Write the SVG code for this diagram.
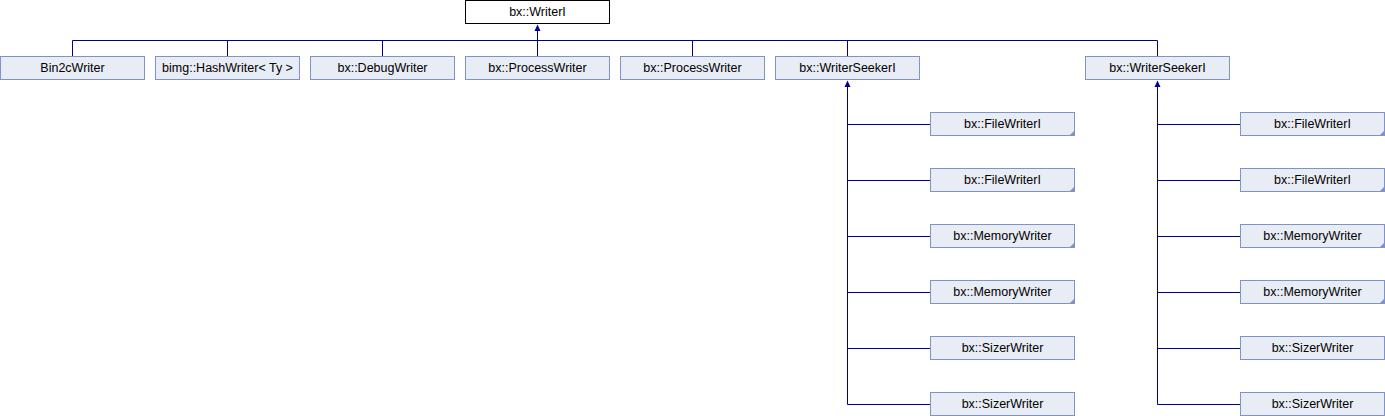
<svg xmlns="http://www.w3.org/2000/svg" width="1385" height="416" viewBox="0 0 1385 416">
<style>
.n rect{fill:#E8ECF5;stroke:#7F93C9;stroke-width:1}
.r rect{fill:#FFFFFF;stroke:#000000;stroke-width:1}
text{font-family:"Liberation Sans",Arial,sans-serif;font-size:12.5px;fill:#000000;text-anchor:middle}
.c{fill:#7F93C9}
.e path{fill:none;stroke:#00008B;stroke-width:1}
.e path.a{fill:#00008B;stroke:none}
</style>
<rect width="1385" height="416" fill="#FFFFFF"/>
<g id="edges" class="e">
<path d="M72.5,56V40.5H1157.5V56M227.5,40.5V56M382.5,40.5V56M537.5,28V56M692.5,40.5V56M847.5,40.5V56"/>
<path d="M847.5,84V404.5M847.5,124.5H930M847.5,180.5H930M847.5,236.5H930M847.5,292.5H930M847.5,348.5H930M847.5,404.5H930"/>
<path d="M1157.5,84V404.5M1157.5,124.5H1240M1157.5,180.5H1240M1157.5,236.5H1240M1157.5,292.5H1240M1157.5,348.5H1240M1157.5,404.5H1240"/>
<path class="a" d="M537.5,24.5L540.5,31H534.5Z"/>
<path class="a" d="M847.5,80.5L850.5,87H844.5Z"/>
<path class="a" d="M1157.5,80.5L1160.5,87H1154.5Z"/>
</g>
<g id="WriterI" class="r"><rect x="465.5" y="0.5" width="144" height="23"/><text x="537.5" y="16">bx::WriterI</text></g>
<g id="Bin2cWriter" class="n"><rect x="0.5" y="56.5" width="144" height="23"/><text x="72.5" y="72">Bin2cWriter</text></g>
<g id="HashWriter" class="n"><rect x="155.5" y="56.5" width="144" height="23"/><text x="227.5" y="72">bimg::HashWriter&lt; Ty &gt;</text></g>
<g id="DebugWriter" class="n"><rect x="310.5" y="56.5" width="144" height="23"/><text x="382.5" y="72">bx::DebugWriter</text></g>
<g id="ProcessWriter1" class="n"><rect x="465.5" y="56.5" width="144" height="23"/><text x="537.5" y="72">bx::ProcessWriter</text></g>
<g id="ProcessWriter2" class="n"><rect x="620.5" y="56.5" width="144" height="23"/><text x="692.5" y="72">bx::ProcessWriter</text></g>
<g id="WriterSeekerI1" class="n"><rect x="775.5" y="56.5" width="144" height="23"/><text x="847.5" y="72">bx::WriterSeekerI</text></g>
<g id="WriterSeekerI2" class="n"><rect x="1085.5" y="56.5" width="144" height="23"/><text x="1157.5" y="72">bx::WriterSeekerI</text></g>
<g id="FileWriterI1a" class="n"><rect x="930.5" y="112.5" width="144" height="23"/><path class="c" d="M1075,130V136H1069Z"/><text x="1002.5" y="128">bx::FileWriterI</text></g>
<g id="FileWriterI1b" class="n"><rect x="930.5" y="168.5" width="144" height="23"/><path class="c" d="M1075,186V192H1069Z"/><text x="1002.5" y="184">bx::FileWriterI</text></g>
<g id="MemoryWriter1a" class="n"><rect x="930.5" y="224.5" width="144" height="23"/><path class="c" d="M1075,242V248H1069Z"/><text x="1002.5" y="240">bx::MemoryWriter</text></g>
<g id="MemoryWriter1b" class="n"><rect x="930.5" y="280.5" width="144" height="23"/><path class="c" d="M1075,298V304H1069Z"/><text x="1002.5" y="296">bx::MemoryWriter</text></g>
<g id="SizerWriter1a" class="n"><rect x="930.5" y="336.5" width="144" height="23"/><text x="1002.5" y="352">bx::SizerWriter</text></g>
<g id="SizerWriter1b" class="n"><rect x="930.5" y="392.5" width="144" height="23"/><text x="1002.5" y="408">bx::SizerWriter</text></g>
<g id="FileWriterI2a" class="n"><rect x="1240.5" y="112.5" width="144" height="23"/><path class="c" d="M1385,130V136H1379Z"/><text x="1312.5" y="128">bx::FileWriterI</text></g>
<g id="FileWriterI2b" class="n"><rect x="1240.5" y="168.5" width="144" height="23"/><path class="c" d="M1385,186V192H1379Z"/><text x="1312.5" y="184">bx::FileWriterI</text></g>
<g id="MemoryWriter2a" class="n"><rect x="1240.5" y="224.5" width="144" height="23"/><path class="c" d="M1385,242V248H1379Z"/><text x="1312.5" y="240">bx::MemoryWriter</text></g>
<g id="MemoryWriter2b" class="n"><rect x="1240.5" y="280.5" width="144" height="23"/><path class="c" d="M1385,298V304H1379Z"/><text x="1312.5" y="296">bx::MemoryWriter</text></g>
<g id="SizerWriter2a" class="n"><rect x="1240.5" y="336.5" width="144" height="23"/><text x="1312.5" y="352">bx::SizerWriter</text></g>
<g id="SizerWriter2b" class="n"><rect x="1240.5" y="392.5" width="144" height="23"/><text x="1312.5" y="408">bx::SizerWriter</text></g>
</svg>
